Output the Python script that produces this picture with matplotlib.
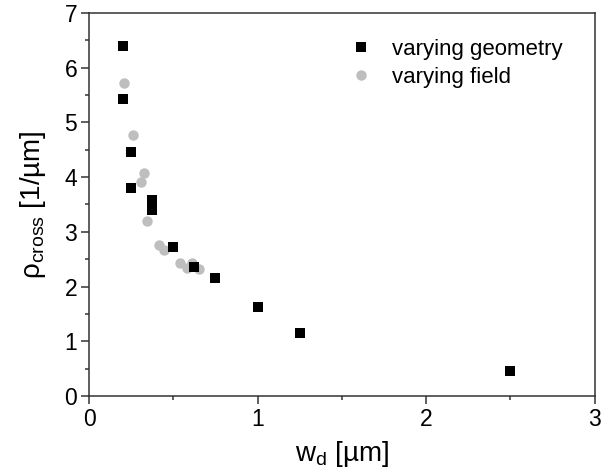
import matplotlib
matplotlib.use('Agg')
import matplotlib.pyplot as plt
from matplotlib.ticker import MultipleLocator

plt.rcParams['font.family'] = ['Liberation Sans', 'DejaVu Sans']
plt.rcParams['mathtext.fontset'] = 'custom'
plt.rcParams['mathtext.rm'] = 'Liberation Sans'
plt.rcParams['mathtext.it'] = 'Liberation Sans:italic'

# varying geometry (squares)
geo_w = [0.20, 0.20, 0.25, 0.25, 0.375, 0.375, 0.50, 0.625, 0.75, 1.00, 1.25, 2.50]
geo_rho = [6.39, 5.42, 4.45, 3.80, 3.58, 3.39, 2.73, 2.36, 2.16, 1.63, 1.16, 0.46]

# varying field (circles)
fld_w = [0.205, 0.26, 0.326, 0.306, 0.346, 0.415, 0.443, 0.539, 0.579, 0.61, 0.65]
fld_rho = [5.72, 4.77, 4.08, 3.91, 3.19, 2.75, 2.66, 2.43, 2.33, 2.43, 2.32]

fig = plt.figure(figsize=(6.10, 4.76), dpi=100)
ax = fig.add_axes([0.146, 0.168, 0.829, 0.805])

ax.plot(fld_w, fld_rho, 'o', color='#bebebe', markersize=7.5, markeredgewidth=0, label='varying field', zorder=2)
ax.plot(geo_w, geo_rho, 's', color='black', markersize=6.6, markeredgewidth=0, label='varying geometry', zorder=3)

ax.set_xlim(0, 3)
ax.set_ylim(0, 7)
ax.xaxis.set_major_locator(MultipleLocator(1))
ax.xaxis.set_minor_locator(MultipleLocator(0.5))
ax.yaxis.set_major_locator(MultipleLocator(1))
ax.yaxis.set_minor_locator(MultipleLocator(0.5))
ax.tick_params(which='major', direction='out', length=5.5, width=1.1, labelsize=16.5, color='#333333', pad=3)
ax.tick_params(which='minor', direction='out', length=3, width=1.1, color='#333333')
for s in ax.spines.values():
    s.set_linewidth(1.1)
    s.set_color('#333333')

ax.set_xlabel('w$_{\\rm d}$ [µm]', fontsize=20, labelpad=6)
ax.set_ylabel('ρ$_{\\rm cross}$ [1/µm]', fontsize=20, labelpad=12)

h, l = ax.get_legend_handles_labels()
ax.legend(h[::-1], l[::-1], loc='upper right', bbox_to_anchor=(0.976, 0.984),
          frameon=False, fontsize=16, handletextpad=0.9, borderaxespad=0.5,
          labelspacing=0.3, handlelength=1.0)

fig.savefig('out.png', dpi=100)
